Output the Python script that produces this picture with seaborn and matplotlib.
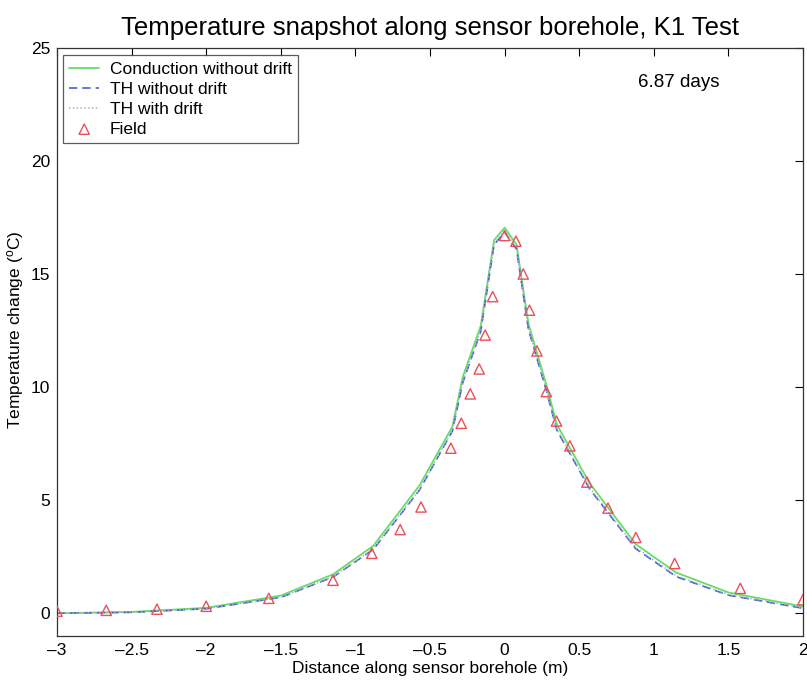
import numpy as np
import pandas as pd
import matplotlib
matplotlib.use("Agg")
import matplotlib.pyplot as plt
import seaborn as sns

# Model node positions along the borehole (m)
model_x = [-3.0, -2.5, -2.0, -1.5, -1.15, -0.88, -0.57, -0.35, -0.28, -0.16,
           -0.07, 0.0, 0.08, 0.16, 0.28, 0.35, 0.57, 0.88, 1.15, 1.5, 2.0]
# Simulated temperature change (deg C)
conduction_no_drift = [0.0, 0.06, 0.24, 0.78, 1.72, 2.98, 5.65, 8.25, 10.45, 12.7,
                       16.5, 17.05, 16.3, 12.8, 10.1, 8.35, 5.75, 3.05, 1.8, 0.92, 0.3]
th_no_drift = [0.0, 0.04, 0.2, 0.7, 1.6, 2.82, 5.45, 8.05, 10.2, 12.45,
               16.3, 16.85, 16.1, 12.55, 9.85, 8.1, 5.5, 2.85, 1.62, 0.8, 0.22]
th_with_drift = [0.0, 0.04, 0.21, 0.71, 1.62, 2.85, 5.48, 8.08, 10.25, 12.5,
                 16.35, 16.9, 16.15, 12.6, 9.9, 8.15, 5.55, 2.9, 1.66, 0.83, 0.24]

# Field measurements
field_x = [-3.0, -2.67, -2.33, -2.0, -1.58, -1.15, -0.89, -0.7, -0.56, -0.36,
           -0.29, -0.23, -0.17, -0.13, -0.08, 0.0, 0.076, 0.125, 0.167, 0.217,
           0.28, 0.348, 0.438, 0.552, 0.693, 0.88, 1.14, 1.58, 2.0]
field_y = [0.09, 0.13, 0.18, 0.31, 0.66, 1.46, 2.65, 3.7, 4.7, 7.3,
           8.4, 9.7, 10.8, 12.3, 14.0, 16.7, 16.45, 15.0, 13.4, 11.6,
           9.8, 8.5, 7.4, 5.8, 4.65, 3.35, 2.2, 1.1, 0.6]

x_ticks = [-3, -2.5, -2, -1.5, -1, -0.5, 0, 0.5, 1, 1.5, 2]
x_tick_labels = ["\u20133", "\u20132.5", "\u20132", "\u20131.5", "\u20131", "\u20130.5",
                 "0", "0.5", "1", "1.5", "2"]
y_ticks = [0, 5, 10, 15, 20, 25]

sns.set_theme(style="white")
plt.rcParams["font.family"] = ["Liberation Sans", "DejaVu Sans"]
plt.rcParams["mathtext.fontset"] = "custom"
plt.rcParams["mathtext.rm"] = "Liberation Sans"
plt.rcParams["mathtext.it"] = "Liberation Sans"
plt.rcParams["text.color"] = "black"
plt.rcParams["axes.labelcolor"] = "black"

fig = plt.figure(figsize=(8.07, 6.83), dpi=100)
ax = fig.add_axes([0.0706, 0.069, 0.9244, 0.861])

models = pd.DataFrame({"x": model_x,
                       "cond": conduction_no_drift,
                       "th": th_no_drift,
                       "thd": th_with_drift})

sns.lineplot(data=models, x="x", y="cond", ax=ax, color="#66dd66", lw=1.3,
             label="Conduction without drift")
sns.lineplot(data=models, x="x", y="th", ax=ax, color="#4a5fd0", lw=1.2,
             linestyle=(0, (5, 3)), label="TH without drift")
sns.lineplot(data=models, x="x", y="thd", ax=ax, color="#aab0b8", lw=1.1,
             linestyle=(0, (1, 1.5)), label="TH with drift")
sns.scatterplot(x=field_x, y=field_y, ax=ax, marker="^", s=55,
                facecolor="none", edgecolor="#e8505a", linewidth=1.0,
                label="Field", zorder=5)

ax.set_xlim(-3, 2)
ax.set_ylim(-1, 25)
ax.set_xticks(x_ticks)
ax.set_xticklabels(x_tick_labels)
ax.set_yticks(y_ticks)
ax.tick_params(direction="in", length=6, width=0.8, top=True, right=True,
               labelsize=12.5, colors="black", pad=5)
for s in ax.spines.values():
    s.set_color("#333333")
    s.set_linewidth(0.9)

ax.set_xlabel("Distance along sensor borehole (m)", fontsize=12.5, labelpad=2)
ax.set_ylabel("Temperature change ($^{o}$C)", fontsize=12.5)
ax.yaxis.set_label_coords(-0.042, 0.52)
ax.set_title("Temperature snapshot along sensor borehole, K1 Test", fontsize=18.5,
             pad=9, color="black")
ax.text(1.17, 23.45, "6.87 days", fontsize=13.5, ha="center", va="center")

leg = ax.legend(loc="upper left", bbox_to_anchor=(0.008, 0.987), fontsize=12.5,
                frameon=True, fancybox=False, edgecolor="#333333", borderpad=0.35,
                labelspacing=0.28, handlelength=1.75, handletextpad=0.6,
                borderaxespad=0.0)
leg.get_frame().set_linewidth(0.9)
for t in leg.get_texts():
    t.set_color("black")

fig.savefig("out.png", dpi=100)
